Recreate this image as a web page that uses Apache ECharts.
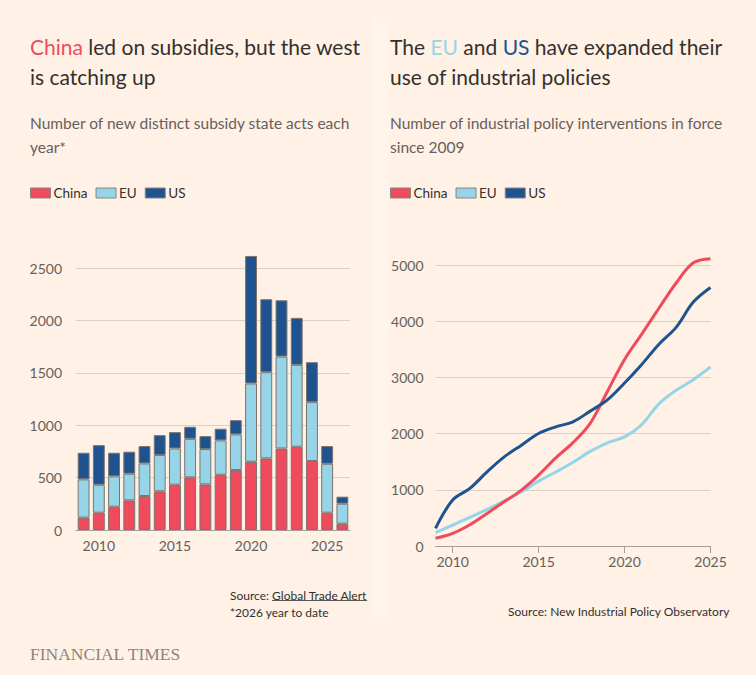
<!DOCTYPE html>
<html>
<head>
<meta charset="utf-8">
<script src="https://cdn.jsdelivr.net/npm/echarts@6/dist/echarts.min.js"></script>
<style>
  html, body { margin: 0; padding: 0; background: #FFF1E5; }
  #main { width: 756px; height: 675px; }
</style>
</head>
<body>
<div id="main"></div>
<script>
// subsidy acts per year (left, stacked bars)
var barYears = ['2009','2010','2011','2012','2013','2014','2015','2016','2017','2018','2019','2020','2021','2022','2023','2024','2025','2026'];
var barChina = [118, 165, 222, 283, 324, 369, 432, 502, 435, 527, 572, 651, 683, 778, 794, 658, 165, 60];
var barEU    = [365, 267, 290, 254, 311, 346, 346, 368, 337, 328, 340, 747, 823, 877, 782, 562, 467, 191];
var barUS    = [254, 378, 225, 210, 166, 190, 156, 115, 124, 111, 136, 1217, 696, 537, 448, 381, 169, 67];

// interventions in force (right, lines)
var lineYears = ['2009','2010','2011','2012','2013','2014','2015','2016','2017','2018','2019','2020','2021','2022','2023','2024','2025'];
var lineChina = [137, 225, 378, 580, 787, 995, 1261, 1569, 1840, 2183, 2750, 3320, 3770, 4230, 4680, 5040, 5113];
var lineEU    = [237, 373, 509, 651, 805, 965, 1155, 1316, 1490, 1683, 1836, 1941, 2160, 2530, 2770, 2960, 3185];
var lineUS    = [314, 817, 1025, 1320, 1586, 1794, 2002, 2120, 2210, 2400, 2600, 2900, 3230, 3590, 3890, 4340, 4600];

var yTicksLeft = [0, 500, 1000, 1500, 2000, 2500];
var yTicksRight = [0, 1000, 2000, 3000, 4000, 5000];

var RED = '#F04B5D', LIGHT = '#96D4E7', DARK = '#1E538F';
var TXT = '#33302E', GREY = '#66605C', GRID = '#DDD0C4', AXIS = '#A59D96';
var FONT = 'Lato, "Noto Sans", sans-serif';
var SRC_SIZE = 12;

var chart = echarts.init(document.getElementById('main'), null, {renderer: 'svg'});

function fiveYears(idx, val) {
    return Number(val) % 5 === 0;
}

function plain(v) {
    return String(v);
}

// width of a bit of text, used to put the underline under the source link
function textWidth(str, size) {
    var ctx = document.createElement('canvas').getContext('2d');
    ctx.font = size + 'px ' + FONT;
    return ctx.measureText(str).width;
}

function barSeries(name, data, color) {
    return {
        name: name,
        type: 'bar',
        stack: 'acts',
        xAxisIndex: 0,
        yAxisIndex: 0,
        barCategoryGap: '22%',
        clip: false,
        itemStyle: {color: color, borderColor: '#7A7470', borderWidth: 1},
        data: data
    };
}

function lineSeries(name, data, color) {
    return {
        name: name,
        type: 'line',
        xAxisIndex: 1,
        yAxisIndex: 1,
        smooth: 0.35,
        symbol: 'none',
        clip: false,
        lineStyle: {color: color, width: 3},
        itemStyle: {color: color},
        data: data
    };
}

var srcX = 230, srcTop = 587;
var linkX = srcX + textWidth('Source: ', SRC_SIZE);
var linkW = textWidth('Global Trade Alert', SRC_SIZE);

var titleStyle = {fontFamily: FONT, fontSize: 21, fontWeight: 'normal', color: TXT, lineHeight: 30};

var option = {
    backgroundColor: '#FFF1E5',
    textStyle: {fontFamily: FONT},
    animation: false,
    graphic: [{
        type: 'rect',
        shape: {x: 372, y: 18, width: 18, height: 600},
        style: {fill: '#FFF4EA'},
        silent: true
    }, {
        type: 'text',
        left: 30,
        top: 645,
        style: {text: 'FINANCIAL TIMES', fill: '#8F847C', font: '17.5px "Liberation Serif", serif'}
    }, {
        type: 'line',
        shape: {x1: linkX, y1: srcTop + 13.5, x2: linkX + linkW, y2: srcTop + 13.5},
        style: {stroke: TXT, lineWidth: 0.8}
    }],
    title: [{
        left: 30, top: 31, padding: 0,
        text: '{c|China} led on subsidies, but the west\nis catching up',
        textStyle: echarts.util.extend({
            rich: {c: {color: RED, fontSize: 21, fontFamily: FONT, lineHeight: 30}}
        }, titleStyle)
    }, {
        left: 390, top: 31, padding: 0,
        text: 'The {e|EU} and {u|US} have expanded their\nuse of industrial policies',
        textStyle: echarts.util.extend({
            rich: {
                e: {color: LIGHT, fontSize: 21, fontFamily: FONT, lineHeight: 30},
                u: {color: DARK, fontSize: 21, fontFamily: FONT, lineHeight: 30}
            }
        }, titleStyle)
    }, {
        left: 30, top: 111, padding: 0,
        text: 'Number of new distinct subsidy state acts each\nyear*',
        textStyle: {fontFamily: FONT, fontSize: 15.5, fontWeight: 'normal', color: GREY, lineHeight: 24}
    }, {
        left: 390, top: 111, padding: 0,
        text: 'Number of industrial policy interventions in force\nsince 2009',
        textStyle: {fontFamily: FONT, fontSize: 15.5, fontWeight: 'normal', color: GREY, lineHeight: 24}
    }, {
        left: srcX, top: srcTop, padding: 0,
        text: 'Source: Global Trade Alert\n*2026 year to date',
        textStyle: {fontFamily: FONT, fontSize: SRC_SIZE, fontWeight: 'normal', color: TXT, lineHeight: 17}
    }, {
        right: 26, top: 605, padding: 0,
        text: 'Source: New Industrial Policy Observatory',
        textStyle: {fontFamily: FONT, fontSize: SRC_SIZE, fontWeight: 'normal', color: TXT}
    }],
    legend: [{
        left: 30, top: 186, padding: 0,
        icon: 'rect', itemWidth: 20, itemHeight: 10, itemGap: 8,
        selectedMode: false,
        itemStyle: {borderColor: '#8A8580', borderWidth: 1},
        textStyle: {fontFamily: FONT, fontSize: 13.5, color: TXT, padding: [0, 0, 0, -2]},
        data: ['China', 'EU', 'US']
    }, {
        left: 390, top: 186, padding: 0,
        icon: 'rect', itemWidth: 20, itemHeight: 10, itemGap: 8,
        selectedMode: false,
        itemStyle: {borderColor: '#8A8580', borderWidth: 1},
        textStyle: {fontFamily: FONT, fontSize: 13.5, color: TXT, padding: [0, 0, 0, -2]},
        data: ['China', 'EU', 'US']
    }],
    grid: [
        {left: 76, right: 406, top: 268, bottom: 145},
        {left: 435.5, right: 45.5, top: 265, bottom: 129}
    ],
    xAxis: [{
        gridIndex: 0,
        type: 'category',
        data: barYears,
        axisLine: {lineStyle: {color: AXIS}},
        axisTick: {alignWithLabel: true, length: 7, interval: fiveYears, lineStyle: {color: AXIS}},
        axisLabel: {interval: fiveYears, color: GREY, fontSize: 14, fontFamily: FONT, margin: 8}
    }, {
        gridIndex: 1,
        type: 'category',
        boundaryGap: false,
        data: lineYears,
        axisLine: {lineStyle: {color: AXIS}},
        axisTick: {length: 7, interval: fiveYears, lineStyle: {color: AXIS}},
        axisLabel: {interval: fiveYears, color: GREY, fontSize: 14, fontFamily: FONT, margin: 8}
    }],
    yAxis: [{
        gridIndex: 0,
        type: 'value',
        min: yTicksLeft[0], max: yTicksLeft[yTicksLeft.length - 1], interval: 500,
        axisLine: {show: false}, axisTick: {show: false},
        splitLine: {lineStyle: {color: GRID}},
        axisLabel: {color: GREY, fontSize: 14, fontFamily: FONT, margin: 14, formatter: plain}
    }, {
        gridIndex: 1,
        type: 'value',
        min: yTicksRight[0], max: yTicksRight[yTicksRight.length - 1], interval: 1000,
        axisLine: {show: false}, axisTick: {show: false},
        splitLine: {lineStyle: {color: GRID}},
        axisLabel: {color: GREY, fontSize: 14, fontFamily: FONT, margin: 12, formatter: plain}
    }],
    series: [
        barSeries('China', barChina, RED),
        barSeries('EU', barEU, LIGHT),
        barSeries('US', barUS, DARK),
        lineSeries('EU', lineEU, LIGHT),
        lineSeries('China', lineChina, RED),
        lineSeries('US', lineUS, DARK)
    ]
};

chart.setOption(option);
</script>
</body>
</html>
